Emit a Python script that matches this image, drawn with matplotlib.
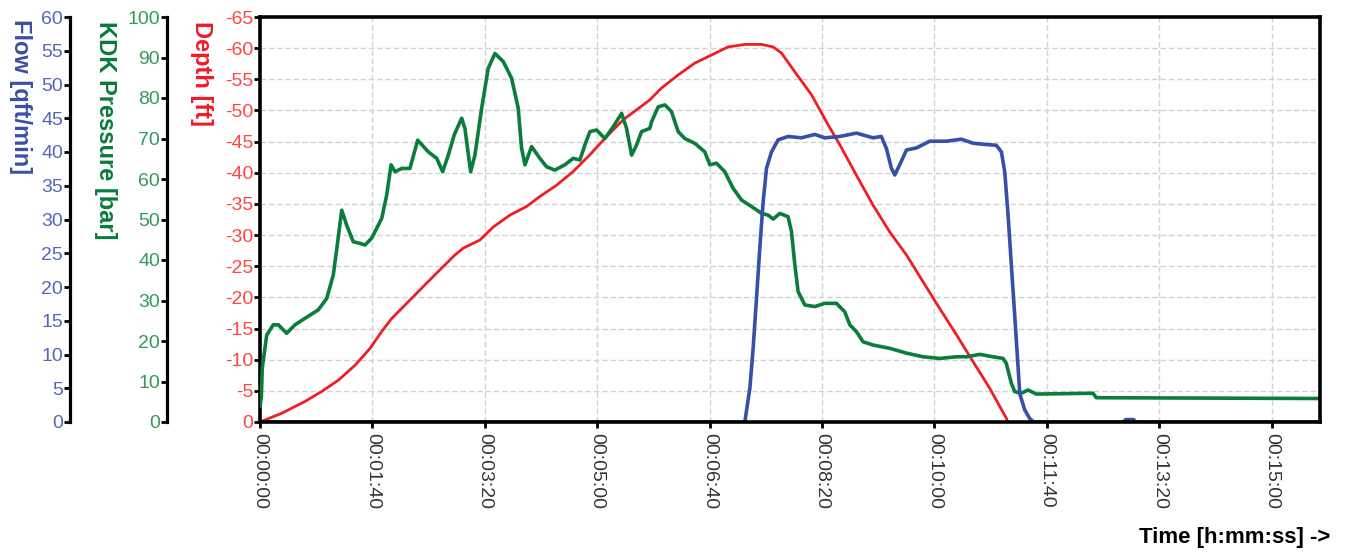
import matplotlib
matplotlib.use("Agg")
import matplotlib.pyplot as plt
from matplotlib.ticker import FixedLocator, FuncFormatter

plt.rcParams['axes.unicode_minus'] = False
plt.rcParams['font.family'] = ['Liberation Sans', 'DejaVu Sans']

# ---- data (time in seconds) ----
press_t = [0, 1.2, 2.0, 6.0, 11.8, 16.3, 23.7, 31.1, 40.0, 51.9, 59.3, 65.2, 69.1, 72.7, 77.1, 83.0,
           89.0, 93.4, 99.4, 108.3, 112.7, 116.6, 120.1, 126.1, 133.4, 140.3, 149.7, 157.2, 162.5,
           167.5, 172.8, 179.4, 182.3, 187.4, 191.2, 197.2, 203.0, 209.0, 216.4, 223.8, 229.7,
           232.7, 235.7, 241.6, 249.0, 255.0, 262.3, 271.2, 278.6, 284.6, 289.0, 293.5, 299.4,
           306.8, 314.2, 321.7, 326.1, 330.6, 335.0, 339.4, 346.8, 348.3, 354.2, 360.2, 366.1,
           372.0, 377.9, 386.8, 395.7, 400.2, 406.1, 413.5, 420.9, 428.4, 437.3, 446.2, 452.0,
           456.5, 462.4, 469.8, 472.8, 475.8, 478.7, 484.7, 493.6, 502.4, 512.8, 520.2, 524.7,
           530.6, 536.5, 545.4, 560.2, 575.1, 589.9, 604.7, 619.6, 628.5, 640.3, 652.1, 661.0,
           663.9, 668.4, 671.4, 677.3, 683.2, 690.7, 741.0, 744.0, 942.6]
press_v = [4, 6, 13.3, 21.5, 24, 24, 21.9, 24, 25.6, 27.7, 30.5, 36.3, 44.5, 52.3, 48.6, 44.5,
           44.1, 43.7, 45.4, 50.3, 56, 63.5, 61.8, 62.6, 62.6, 69.6, 66.7, 65.1, 61.8,
           65.9, 70.9, 75, 72.5, 61.8, 65.9, 77.5, 87.3, 91, 89, 84.9, 77.5,
           67.6, 63.5, 68, 65.1, 63, 62.2, 63.5, 65.1, 64.7, 68.4, 71.7, 72.1,
           70, 72.9, 76.2, 72.5, 65.9, 68.4, 71.7, 72.5, 74.1, 77.8, 78.3, 76.6,
           71.7, 70, 68.8, 66.7, 63.5, 63.9, 61.8, 57.7, 54.8, 53.2, 51.5, 51.1,
           50.1, 51.5, 50.7, 47, 38.8, 32.2, 28.9, 28.5, 29.3, 29.3, 27.2, 24,
           22.3, 19.8, 19, 18.2, 17, 16.1, 15.7, 16.1, 16.1, 16.7, 16.1, 15.7,
           14.5, 9.6, 7.5, 7.1, 7.9, 6.9, 7.1, 6.0, 5.8]

depth_t = [0, 19.3, 40.0, 54.9, 69.6, 84.5, 97.8, 108.2, 117.1, 131.9, 146.7, 161.6, 173.4, 180.8,
           195.6, 207.5, 222.3, 237.2, 249.0, 263.8, 278.6, 293.5, 308.3, 323.1, 335.0, 346.8,
           357.2, 372.0, 386.8, 401.7, 416.4, 431.3, 446.2, 456.5, 464.0, 475.8, 490.7, 505.4,
           515.8, 530.6, 545.4, 560.2, 575.1, 589.9, 604.7, 619.6, 634.3, 649.2, 664.0, 665.2]
depth_v = [0, -1.4, -3.3, -4.9, -6.7, -9.1, -11.8, -14.5, -16.6, -19.3, -22.0, -24.7, -26.8, -27.9,
           -29.2, -31.3, -33.2, -34.6, -36.2, -38.0, -40.2, -42.9, -45.8, -48.5, -50.1, -51.7,
           -53.6, -55.7, -57.6, -58.9, -60.2, -60.6, -60.6, -60.2, -59.2, -56.2, -52.5, -47.7,
           -44.5, -39.6, -34.8, -30.5, -26.8, -22.5, -18.2, -14.0, -9.7, -5.4, -0.6, 0]

flow_t = [0, 431.3, 435.8, 438.7, 441.7, 444.6, 447.6, 450.6, 455.0, 460.9, 469.8, 481.7, 493.6,
          502.4, 515.8, 530.6, 545.4, 552.8, 557.3, 561.7, 564.7, 569.1, 575.1, 584.0, 595.8,
          610.7, 624.0, 634.3, 646.2, 655.1, 659.6, 662.5, 665.5, 668.4, 671.4, 674.3, 675.9,
          680.3, 684.8, 688.3, 768.3, 770.0, 777.2, 779.0, 942.6]
flow_v = [0, 0, 5.0, 10.9, 18.3, 25.7, 32.6, 37.6, 40.0, 41.8, 42.3, 42.1, 42.6,
          42.1, 42.3, 42.8, 42.1, 42.3, 40.5, 37.6, 36.6, 38.1, 40.3, 40.6, 41.6,
          41.6, 41.9, 41.3, 41.1, 41.0, 40.0, 37.1, 30.7, 23.3, 15.8, 8.4, 4.2,
          1.8, 0.5, 0, 0, 0.35, 0.35, 0, 0]

time_ticks = [0, 100, 200, 300, 400, 500, 600, 700, 800, 900]
depth_ticks = list(range(0, -70, -5))
press_ticks = list(range(0, 110, 10))
flow_ticks = list(range(0, 65, 5))

# ---- colours ----
RED, RED_T = '#f01e23', '#ff4545'
GREEN, GREEN_T = '#0b7d3b', '#33995c'
BLUE, BLUE_T = '#3550a5', '#5567b5'

W, H = 1346, 552
fig = plt.figure(figsize=(W / 100, H / 100), dpi=100)
fig.patch.set_facecolor('white')
rect = [260 / W, 130 / H, 1060 / W, 405 / H]
ax_d = fig.add_axes(rect)
ax_p = ax_d.twinx()
ax_f = ax_d.twinx()

ax_d.set_xlim(0, 943)
ax_d.set_ylim(0, -65)
ax_p.set_ylim(0, 100)
ax_f.set_ylim(0, 60)

# grid on host
ax_d.grid(True, color='#d2d2d2', linestyle=(0, (4, 2)), linewidth=1.0)
ax_d.set_axisbelow(True)

ax_d.plot(depth_t, depth_v, color=RED, lw=2.0, solid_joinstyle='round')
ax_p.plot(press_t, press_v, color=GREEN, lw=2.6, solid_joinstyle='round')
ax_f.plot(flow_t, flow_v, color=BLUE, lw=2.6, solid_joinstyle='round')

# x axis
ax_d.xaxis.set_major_locator(FixedLocator(time_ticks))
ax_d.xaxis.set_major_formatter(FuncFormatter(
    lambda v, p: "%02d:%02d:%02d" % (int(v) // 3600, (int(v) % 3600) // 60, int(v) % 60)))
ax_d.tick_params(axis='x', direction='out', length=4, width=2, color='black',
                 labelsize=14, labelcolor='#333333', pad=4, labelrotation=270)
for lbl in ax_d.get_xticklabels():
    lbl.set_va('top')
    lbl.set_ha('center')

# depth axis (host, left)
ax_d.yaxis.set_major_locator(FixedLocator(depth_ticks))
ax_d.yaxis.set_major_formatter(FuncFormatter(lambda v, p: "%d" % round(v)))
ax_d.tick_params(axis='y', direction='out', length=4, width=2, color='black',
                 labelsize=14, labelcolor=RED_T, pad=1)

# pressure axis (left, offset)
for a, pos, ticks, col in [(ax_p, (167 - 260) / 1060, press_ticks, GREEN_T),
                           (ax_f, (70 - 260) / 1060, flow_ticks, BLUE_T)]:
    a.yaxis.set_ticks_position('left')
    a.yaxis.set_label_position('left')
    a.spines['left'].set_position(('axes', pos))
    a.spines['left'].set_visible(True)
    a.spines['left'].set_linewidth(2.3)
    a.yaxis.set_major_locator(FixedLocator(ticks))
    a.yaxis.set_major_formatter(FuncFormatter(lambda v, p: "%d" % round(v)))
    a.tick_params(axis='y', direction='out', length=4, width=2, color='black',
                  labelsize=14, labelcolor=col, pad=1)
    for s in ['top', 'bottom', 'right']:
        a.spines[s].set_visible(False)

# frame
for s in ['top', 'bottom', 'right']:
    ax_d.spines[s].set_visible(False)
ax_d.spines['left'].set_linewidth(2.6)
for s in ['top', 'bottom', 'right']:
    ax_f.spines[s].set_visible(True)
    ax_f.spines[s].set_linewidth(2.6)
    ax_f.spines[s].set_color('black')

# axis titles
fig.text(20 / W, 1 - 19 / H, "Flow [qft/min]", rotation=270, ha='center', va='top',
         fontsize=17, fontweight='bold', color='#3a50a0')
fig.text(105 / W, 1 - 21 / H, "KDK Pressure [bar]", rotation=270, ha='center', va='top',
         fontsize=17, fontweight='bold', color='#0a7a3a')
fig.text(201 / W, 1 - 21 / H, "Depth [ft]", rotation=270, ha='center', va='top',
         fontsize=17, fontweight='bold', color='#ee1c24')
fig.text(1330 / W, 14 / H, "Time [h:mm:ss] ->", ha='right', va='center',
         fontsize=16, fontweight='bold', color='black')

fig.savefig("out.png", dpi=100, facecolor='white')
